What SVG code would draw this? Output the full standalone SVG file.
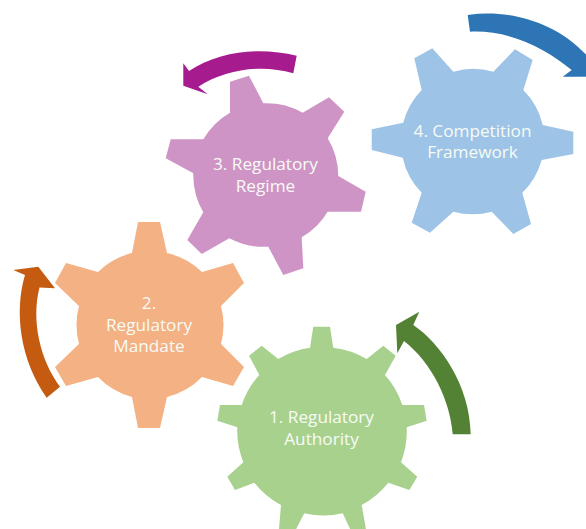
<svg xmlns="http://www.w3.org/2000/svg" width="586" height="529" viewBox="0 0 586 529">
<style>
.t{font-family:"Open Sans","Noto Sans",sans-serif;font-size:17.200px;fill:#f7fbf5;text-anchor:middle}
.g1{fill:#a9d18e}.g2{fill:#f4b183}.g3{fill:#cf94c6}.g4{fill:#9dc3e6}
</style>
<rect width="586" height="529" fill="#fff"/>
<g id="connectors">
<path id="arrow-1" fill="#548235" d="M452.700 434.300C450 400 432 363 404 341L397.300 353.300L396 325L419.300 311.700L413.300 325C440 343 470 385 470.700 434.300Z"/>
<path id="arrow-2" fill="#c55a11" d="M60 386.700C40 360 31 320 39.500 287.500L55 288.300L38.300 266.700L13.300 270L25 275C14 312 20 360 46.700 397.700Z"/>
<path id="arrow-3" fill="#a61c8f" d="M293.300 73.300C262 64 226 69 198.300 86.700L207.700 94.300L183.300 85.700L183.300 63.300L189 71C220 50 262 47 296.700 55.700Z"/>
<path id="arrow-4" fill="#2e75b6" d="M470 31.700C510 30 545 48 571.700 70L562.700 76.700L590 76.700L590 59C558 22 510 9 467.700 15Z"/>
</g>
<g id="gear-1">
<path class="g1" d="M313.300 326.700L330 326.700L333.300 347.700A85 85 0 0 1 366.700 359L383.300 345.700L395.700 355.700L385 375A85 85 0 0 1 402.300 405L424 405L426.700 420.700L406.700 427.300A85 85 0 0 1 401 462.300L417.300 476.700L409.300 490L388.300 482.700A85 85 0 0 1 361.700 505L367 535L353 535L342.700 513.300A85 85 0 0 1 304.300 513.300L293 535L278.500 535L281 505A85 85 0 0 1 254.300 482.700L235 490L227.300 476.700L243.300 462.300A85 85 0 0 1 237.300 427.300L217.300 420.700L220 405L241.700 405A85 85 0 0 1 259.300 375L249 355.700L261.700 345.700L278.300 359A85 85 0 0 1 310 347.700Z"/>
<text class="t" x="321.500" y="422.500">1. Regulatory</text>
<text class="t" x="321.500" y="444.500">Authority</text>
</g>
<g id="gear-2">
<path class="g2" d="M138 222L160 222L167 253A74 74 0 0 1 202 272L233 263L244 283L221 306A74 74 0 0 1 221 344L244 367L233 386L202 377A74 74 0 0 1 167 397L160 428L138 428L132 397A74 74 0 0 1 98 377L66 386L55 367L79 344A74 74 0 0 1 79 306L55 283L66 263L98 272A74 74 0 0 1 132 253Z"/>
<text class="t" x="149" y="308.500">2.</text>
<text class="t" x="149" y="330.500">Regulatory</text>
<text class="t" x="149" y="352">Mandate</text>
</g>
<g id="gear-3">
<path class="g3" d="M230 81.700L249 75.700L263.300 103.300A73 73 0 0 1 302.700 112.700L329 97.300L344.300 111.700L327.700 138.300A73 73 0 0 1 338.300 176L365.700 191.700L361 211.700L327.700 211.700A73 73 0 0 1 301.700 237.300L303.300 268.300L283.300 275L268.300 246.700A73 73 0 0 1 229.300 238.300L201.700 254L187.300 240L203.300 212.300A73 73 0 0 1 193.300 173.300L165.700 158.300L170.700 139.300L203.300 139.300A73 73 0 0 1 230 112.700Z"/>
<text class="t" x="265.500" y="169.500">3. Regulatory</text>
<text class="t" x="265.500" y="192">Regime</text>
</g>
<g id="gear-4">
<path class="g4" d="M414.300 58.300L432.300 48.300L453.300 71.700A72 72 0 0 1 493.300 71.700L515 49.300L532.700 60L523.300 90A72 72 0 0 1 542.700 125L573.300 131.700L573.300 154L541.700 160A72 72 0 0 1 522.300 192.700L531 224L513.300 234L491.700 211.700A72 72 0 0 1 453.300 211.700L430 232.700L411.700 222.700L421.700 192.700A72 72 0 0 1 402.700 157.700L371.700 150L371.700 129.300L403.300 122.700A72 72 0 0 1 421.700 90Z"/>
<text class="t" x="472.500" y="137">4. Competition</text>
<text class="t" x="472.500" y="158">Framework</text>
</g>
</svg>
